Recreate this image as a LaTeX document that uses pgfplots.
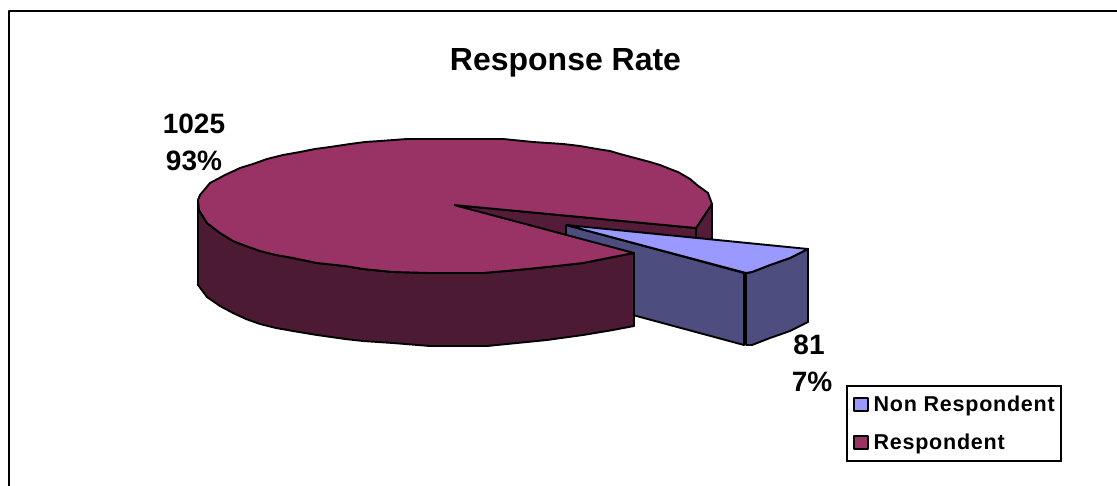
\documentclass[border=0pt]{standalone}
\usepackage{pgfplots}
\pgfplotsset{compat=1.18}
\usepackage{fontspec}
\setmainfont{Liberation Sans}
\definecolor{respTop}{HTML}{993366}
\definecolor{respSide}{HTML}{4C1A33}
\definecolor{respCut}{HTML}{541C38}
\definecolor{nonTop}{HTML}{9999FF}
\definecolor{nonSide}{HTML}{4D4D80}
\newcommand{\lbl}{\fontsize{28.1}{32}\selectfont\bfseries}
\begin{document}
\begin{tikzpicture}
\begin{axis}[
  scale only axis, width=1117bp, height=486bp,
  xmin=0, xmax=1117, ymin=0, ymax=486, y dir=reverse,
  hide axis, clip=true,
  every axis plot/.append style={line width=1.9bp, line join=round, forget plot},
  legend cell align=left,
  legend image code/.code={\draw[#1, line width=1.7bp] (-1bp,-6.5bp) rectangle (12.5bp,6.5bp);},
  legend style={
    at={(846/1117,1-385/486)}, anchor=north west,
    draw=black, line width=1.8bp, inner xsep=6.5bp, inner ysep=8bp,
    row sep=17bp, column sep=0bp,
    nodes={inner sep=0pt, text height=18bp, text depth=3bp, anchor=west,
      font=\fontsize{21.6}{26}\selectfont\bfseries\addfontfeature{LetterSpace=3.5}},
  },
]
\addlegendimage{fill=nonTop, draw=black}
\addlegendentry{\hspace*{5bp}Non Respondent\hspace{1bp}}
\addlegendimage{fill=respTop, draw=black}
\addlegendentry{\hspace*{5bp}Respondent}

% white backdrop and the open frame
\addplot[fill=white, draw=none] coordinates {(0,0) (1117,0) (1117,486) (0,486) (0,0)};
\addplot[draw=black, line width=2.3bp] coordinates {(1120,11) (9,11) (9,490)};

% cut wall of the large slice, behind the pulled-out slice
\addplot[fill=respCut, draw=black] coordinates {
  (454,205) (696,228) (712,204) (712,240) (696,238) (566,237) (454,205)};
\addplot[draw=black] coordinates {(696,228) (696,238)};

% pulled-out slice: Non Respondent, 81
\addplot[fill=nonSide, draw=black] coordinates {
  (566,225) (744,273) (744,345) (566,297) (566,225)};
\addplot[fill=nonSide, draw=black] coordinates {
  (746,273) (752,272) (770,265) (790,258) (808,249) (808,322) (790,331)
  (770,338) (752,345) (746,345) (746,273)};
\addplot[fill=nonTop, draw=black] coordinates {
  (566,225) (808,249) (790,258) (770,265) (752,272) (746,273) (566,225)};

% outer wall of the large slice
\addplot[fill=respSide, draw=black] coordinates {
  (198,200) (199,210) (207,223) (220,233) (233,241) (246,246) (260,251) (276,255)
  (293,258) (317,263) (345,266) (363,269) (393,272) (430,273) (483,273) (517,270)
  (547,267) (583,263) (613,257) (634,253) (634,326) (613,330) (583,335) (547,340)
  (517,343) (487,346) (430,346) (393,343) (363,341) (345,339) (317,335) (293,331)
  (276,328) (260,324) (246,319) (233,313) (220,306) (207,297) (198,285) (198,200)};

% top face of the large slice: Respondent, 1025
\addplot[fill=respTop, draw=black] coordinates {
  (454,205) (696,228) (712,204) (708,193) (697,185) (690,179) (678,172) (670,169)
  (660,165) (650,162) (635,158) (620,154) (610,151) (597,149) (580,146) (563,144)
  (533,142) (503,139) (407,139) (380,141) (365,142) (350,144) (330,147) (315,149)
  (300,152) (283,155) (267,159) (253,164) (240,168) (225,175) (210,183) (200,195)
  (198,200) (199,210) (207,223) (220,233) (233,241) (246,246) (260,251) (276,255)
  (293,258) (317,263) (345,266) (363,269) (393,272) (430,273) (483,273) (517,270)
  (547,267) (583,263) (613,257) (634,253) (454,205)};

\node[anchor=base, font=\fontsize{32.1}{38}\selectfont\bfseries] at (axis cs:565.5,71) {Response Rate};
\node[anchor=base, font=\lbl] at (axis cs:194,133) {1025};
\node[anchor=base, font=\lbl] at (axis cs:194,170) {93\%};
\node[anchor=base, font=\lbl] at (axis cs:809,354) {81};
\node[anchor=base, font=\lbl] at (axis cs:812,391) {7\%};
\end{axis}
\end{tikzpicture}
\end{document}
